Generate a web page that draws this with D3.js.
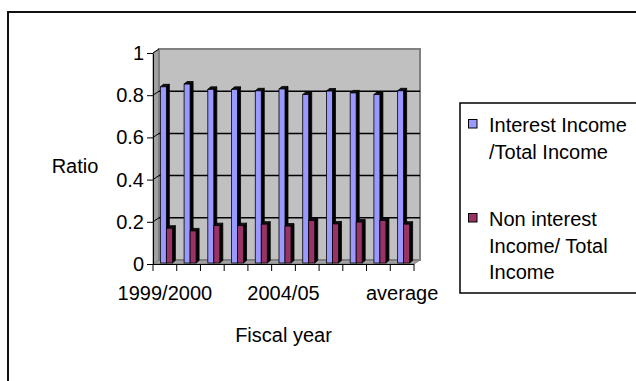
<!DOCTYPE html>
<html>
<head>
<meta charset="utf-8">
<script src="https://cdnjs.cloudflare.com/ajax/libs/d3/7.8.5/d3.min.js"></script>
<style>
  body { margin: 0; background: #fff; }
  svg { display: block; }
  text { font-family: "Liberation Sans", Arial, sans-serif; fill: #000; }
</style>
</head>
<body>
<svg id="chart" width="636" height="381"></svg>
<script>
// Share of total income, by fiscal year
const categories = ["1999/2000", "2000/01", "2001/02", "2002/03", "2003/04", "2004/05",
                    "2005/06", "2006/07", "2007/08", "2008/09", "average"];
const interestShare    = [0.835, 0.848, 0.823, 0.823, 0.816, 0.825, 0.798, 0.815, 0.806, 0.798, 0.816];
const nonInterestShare = [0.165, 0.152, 0.177, 0.177, 0.184, 0.175, 0.202, 0.185, 0.194, 0.202, 0.184];
const seriesKeys = ["interest", "nonInterest"];
const seriesColors = ["#9999FF", "#993366"];
const legendLines = [["Interest Income", "/Total Income"], ["Non interest", "Income/ Total", "Income"]];
const yTicks = [0, 0.2, 0.4, 0.6, 0.8, 1];
const xLabelsShown = ["1999/2000", "2004/05", "average"];

const svg = d3.select("#chart");
const FONT = 20;

// front plane scales
const x = d3.scaleBand().domain(categories).range([153, 414]);
const y = d3.scaleLinear().domain([0, 1]).range([264, 53]);
const sub = d3.scaleBand().domain(seriesKeys).range([0, x.bandwidth()]).paddingInner(0).paddingOuter(0.977);
// depth of the 3-D box
const DX = 6, DY = -4;
const x0 = x.range()[0], x1 = x.range()[1];

// outer chart frame
svg.append("rect").attr("x", 8).attr("y", 12).attr("width", 700).attr("height", 500)
  .attr("fill", "none").attr("stroke", "#111").attr("stroke-width", 2);

const pts = a => a.map(p => p.join(",")).join(" ");

// side wall
svg.append("polygon")
  .attr("points", pts([[x0, y(0)], [x0, y(1)], [x0 + DX, y(1) + DY], [x0 + DX, y(0) + DY]]))
  .attr("fill", "#a0a0a0").attr("stroke", "#808080").attr("stroke-width", 1);
// floor
svg.append("polygon")
  .attr("points", pts([[x0, y(0)], [x1, y(0)], [x1 + DX, y(0) + DY], [x0 + DX, y(0) + DY]]))
  .attr("fill", "#a0a0a0").attr("stroke", "#808080").attr("stroke-width", 1);
// back wall
svg.append("rect")
  .attr("x", x0 + DX).attr("y", y(1) + DY)
  .attr("width", x1 - x0).attr("height", y(0) - y(1))
  .attr("fill", "#c0c0c0").attr("stroke", "#808080").attr("stroke-width", 2);

// gridlines on back and side walls
const grid = svg.append("g");
grid.selectAll("line.back").data(yTicks.filter(t => t > 0 && t < 1)).join("line")
  .attr("class", "back")
  .attr("x1", x0 + DX).attr("x2", x1 + DX)
  .attr("y1", d => y(d) + DY).attr("y2", d => y(d) + DY)
  .attr("stroke", "#000").attr("stroke-width", 1.5);
grid.selectAll("line.side").data(yTicks.filter(t => t > 0)).join("line")
  .attr("class", "side")
  .attr("x1", x0).attr("x2", x0 + DX)
  .attr("y1", d => y(d)).attr("y2", d => y(d) + DY)
  .attr("stroke", "#000").attr("stroke-width", 1);

// 3-D columns
const BW = 6;          // column face width
const FX = 1.5, FY = -1;  // front face set back from the front plane
const CX = 3, CY = -2.5;  // column depth
const rows = [];
categories.forEach((c, i) => {
  [interestShare[i], nonInterestShare[i]].forEach((v, s) => {
    rows.push({ c, v, s, key: seriesKeys[s] });
  });
});
const bars = svg.append("g").selectAll("g").data(rows).join("g");
bars.each(function (d) {
  const g = d3.select(this);
  const bx = x(d.c) + sub(d.key) + FX;
  const top = y(d.v) + FY;
  const bot = y(0) + FY;
  // right side
  g.append("polygon")
    .attr("points", pts([[bx + BW, bot], [bx + BW, top], [bx + BW + CX, top + CY], [bx + BW + CX, bot + CY]]))
    .attr("fill", "#000").attr("stroke", "#000").attr("stroke-width", 0.8);
  // top
  g.append("polygon")
    .attr("points", pts([[bx, top], [bx + BW, top], [bx + BW + CX, top + CY], [bx + CX, top + CY]]))
    .attr("fill", "#111").attr("stroke", "#000").attr("stroke-width", 0.8);
  // front
  g.append("rect")
    .attr("x", bx).attr("y", top).attr("width", BW).attr("height", bot - top)
    .attr("fill", seriesColors[d.s]).attr("stroke", "#000").attr("stroke-width", 0.8);
});

// value axis
const yAxis = svg.append("g").attr("transform", `translate(${x0},0)`)
  .call(d3.axisLeft(y).tickValues(yTicks).tickFormat(d3.format("")).tickSize(6).tickSizeOuter(0));
yAxis.select(".domain").attr("stroke", "#000");
yAxis.selectAll(".tick line").attr("stroke", "#000");
yAxis.selectAll("text").attr("font-size", FONT).attr("font-family", "Liberation Sans, Arial, sans-serif").attr("fill", "#000");

// category axis
const xAxis = svg.append("g").attr("transform", `translate(0,${y(0)})`)
  .call(d3.axisBottom(x).tickSize(0).tickFormat(d => xLabelsShown.includes(d) ? d : ""));
xAxis.select(".domain").attr("stroke", "#000").attr("d", `M${x0},0.5H${x1}`);
xAxis.selectAll("text").attr("font-size", FONT).attr("font-family", "Liberation Sans, Arial, sans-serif")
  .attr("fill", "#000").attr("y", 36).attr("dy", 0);
// tick marks on category boundaries
const edges = categories.map(c => x(c)).concat([x1]);
xAxis.selectAll("line.edge").data(edges).join("line").attr("class", "edge")
  .attr("x1", d => d).attr("x2", d => d).attr("y1", 0).attr("y2", 7)
  .attr("stroke", "#000").attr("stroke-width", 1);

// axis titles
svg.append("text").attr("x", 75).attr("y", 173).attr("text-anchor", "middle")
  .attr("font-size", FONT).text("Ratio");
svg.append("text").attr("x", (x0 + x1) / 2).attr("y", 342).attr("text-anchor", "middle")
  .attr("font-size", FONT).text("Fiscal year");

// legend
const lg = svg.append("g");
lg.append("rect").attr("x", 460).attr("y", 103).attr("width", 300).attr("height", 190)
  .attr("fill", "#fff").attr("stroke", "#000").attr("stroke-width", 1.5);
const itemTop = [132, 226];
const LINE = 26.7;
legendLines.forEach((lines, s) => {
  lg.append("rect").attr("x", 468.5).attr("y", itemTop[s] - 12.5).attr("width", 8.5).attr("height", 8.5)
    .attr("fill", seriesColors[s]).attr("stroke", "#000").attr("stroke-width", 1);
  lg.selectAll(null).data(lines).join("text")
    .attr("x", 489).attr("y", (d, k) => itemTop[s] + k * LINE)
    .attr("font-size", FONT).text(d => d);
});
</script>
</body>
</html>
